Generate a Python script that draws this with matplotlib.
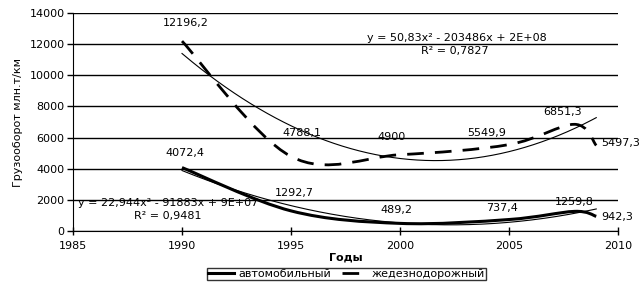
import numpy as np
import matplotlib
matplotlib.use("Agg")
import matplotlib.pyplot as plt
from matplotlib.path import Path
from matplotlib.patches import PathPatch
from matplotlib.lines import Line2D

plt.rcParams["font.family"] = ["DejaVu Sans"]
plt.rcParams["font.size"] = 8

years = [1990, 1995, 2000, 2005, 2008, 2009]
auto = [4072.4, 1292.7, 489.2, 737.4, 1259.8, 942.3]
rail = [12196.2, 4788.1, 4900.0, 5549.9, 6851.3, 5497.3]
auto_labels = ["4072,4", "1292,7", "489,2", "737,4", "1259,8", "942,3"]
rail_labels = ["12196,2", "4788,1", "4900", "5549,9", "6851,3", "5497,3"]
# trend coefficients (x - 2000): x^2, x, const  -- read from the shown equations
auto_trend = [22.944, -107.0, 520.0]
rail_trend = [50.83, -166.0, 4657.0]
auto_eq = "y = 22,944x² - 91883x + 9E+07"
auto_r2 = "R² = 0,9481"
rail_eq = "y = 50,83x² - 203486x + 2E+08"
rail_r2 = "R² = 0,7827"
series_names = ["автомобильный", "жедезнодорожный"]

# label offsets in pixels (dx, dy, ha)
auto_off = [(3, 15, "center"), (3, 18, "center"), (-4, 13, "center"),
            (-7, 12, "center"), (0, 9, "center"), (5, -1, "left")]
rail_off = [(4, 18, "center"), (11, 23, "center"), (-8, 18, "center"),
            (-22, 12, "center"), (-12, 12, "center"), (5, 2, "left")]


def smooth_path(x, y, k=1 / 6):
    """Excel-style smoothed line as cubic Bezier path."""
    x = np.asarray(x, float)
    y = np.asarray(y, float)
    n = len(x)
    verts = [(x[0], y[0])]
    codes = [Path.MOVETO]
    for i in range(n - 1):
        p0 = i - 1 if i > 0 else i
        p3 = i + 2 if i + 2 < n else i + 1
        c1 = (x[i] + (x[i + 1] - x[p0]) * k, y[i] + (y[i + 1] - y[p0]) * k)
        c2 = (x[i + 1] - (x[p3] - x[i]) * k, y[i + 1] - (y[p3] - y[i]) * k)
        verts += [c1, c2, (x[i + 1], y[i + 1])]
        codes += [Path.CURVE4] * 3
    return Path(verts, codes)


fig = plt.figure(figsize=(6.42, 2.86), dpi=100)
ax = fig.add_axes([0.1137, 0.1923, 0.849, 0.7622])

ax.set_xlim(1985, 2010)
ax.set_ylim(0, 14000)
ax.set_xticks(range(1985, 2011, 5))
ax.set_yticks(range(0, 14001, 2000))
ax.yaxis.grid(True, color="black", linewidth=1)
ax.set_axisbelow(True)
for s in ("top", "right"):
    ax.spines[s].set_visible(False)
ax.tick_params(axis="y", direction="out", length=4, width=1, pad=2)
ax.tick_params(axis="x", direction="inout", length=6, width=1, pad=4)

# trend lines (polynomial order 2)
xt = np.linspace(years[0], years[-1], 200)
for coef in (rail_trend, auto_trend):
    ax.plot(xt, np.polyval(coef, xt - 2000), color="black", linewidth=0.8)

ax.add_patch(PathPatch(smooth_path(years, auto), facecolor="none",
                       edgecolor="black", linewidth=2.2))
ax.add_patch(PathPatch(smooth_path(years, rail), facecolor="none",
                       edgecolor="black", linewidth=2.0,
                       linestyle=(0, (6, 4))))

for yv, lab, off in zip(zip(years, auto), auto_labels, auto_off):
    ax.annotate(lab, yv, xytext=off[:2], textcoords="offset pixels",
                ha=off[2], va="center")
for yv, lab, off in zip(zip(years, rail), rail_labels, rail_off):
    ax.annotate(lab, yv, xytext=off[:2], textcoords="offset pixels",
                ha=off[2], va="center")

ax.text(0.705, 0.885, rail_eq, transform=ax.transAxes, ha="center", va="center")
ax.text(0.701, 0.826, rail_r2, transform=ax.transAxes, ha="center", va="center")
ax.text(0.174, 0.128, auto_eq, transform=ax.transAxes, ha="center", va="center")
ax.text(0.174, 0.069, auto_r2, transform=ax.transAxes, ha="center", va="center")

ax.set_xlabel("Годы", fontweight="bold", labelpad=1)
ax.set_ylabel("Грузооборот млн.т/км", labelpad=5)

handles = [Line2D([], [], color="black", linewidth=2.2),
           Line2D([], [], color="black", linewidth=2.0, linestyle=(0, (6, 4)))]
leg = fig.legend(handles, series_names, loc="center", ncol=2,
                 bbox_to_anchor=(0.540, 0.042), frameon=True, fancybox=False,
                 handlelength=2.3, handletextpad=0.4, columnspacing=1.0,
                 borderpad=0.1, borderaxespad=0, fontsize=8)
leg.get_frame().set_edgecolor("black")
leg.get_frame().set_linewidth(1)

fig.savefig("out.png", dpi=100)
